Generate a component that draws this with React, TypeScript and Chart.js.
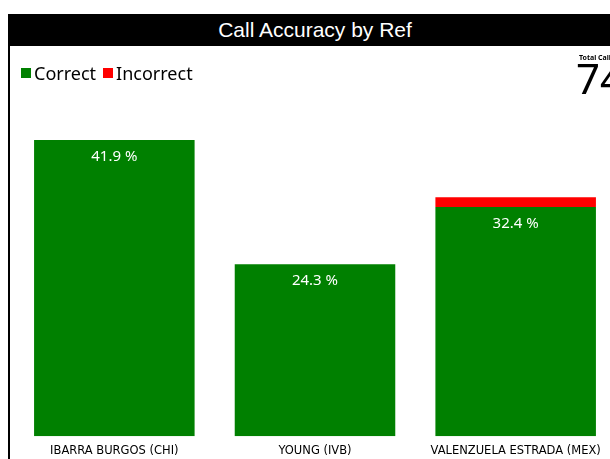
import React, { useEffect, useRef } from "react";
import { Chart, registerables } from "chart.js";

Chart.register(...registerables);

const title = "Call Accuracy by Ref";
const refs = ["IBARRA BURGOS (CHI)", "YOUNG (IVB)", "VALENZUELA ESTRADA (MEX)"];
const correctCalls = [31, 18, 24];
const incorrectCalls = [0, 0, 1];
const seriesNames = ["Correct", "Incorrect"];
const seriesColors = ["#008000", "#ff0000"];
const totalCalls = correctCalls.reduce((a, b) => a + b, 0) + incorrectCalls.reduce((a, b) => a + b, 0);
const yMax = Math.max(...correctCalls.map((c, i) => c + incorrectCalls[i]));

const labelPlugin = {
  id: "pctLabels",
  afterDatasetsDraw(chart: any) {
    const ctx = chart.ctx;
    const meta = chart.getDatasetMeta(0);
    ctx.save();
    ctx.fillStyle = "#ffffff";
    ctx.font = '15px "Noto Sans"';
    ctx.textAlign = "center";
    ctx.textBaseline = "middle";
    meta.data.forEach((bar: any, i: number) => {
      const v = correctCalls[i];
      const pct = ((v / totalCalls) * 100).toFixed(1) + " %";
      ctx.fillText(pct, bar.x, bar.y + 17);
    });
    ctx.restore();
  },
};

export default function App() {
  const canvasRef = useRef<HTMLCanvasElement | null>(null);

  useEffect(() => {
    if (!canvasRef.current) return;
    const chart = new Chart(canvasRef.current, {
      type: "bar",
      data: {
        labels: refs,
        datasets: [
          {
            label: seriesNames[0],
            data: correctCalls,
            backgroundColor: seriesColors[0],
            borderWidth: 0,
            barPercentage: 1,
            categoryPercentage: 0.8,
          },
          {
            label: seriesNames[1],
            data: incorrectCalls,
            backgroundColor: seriesColors[1],
            borderWidth: 0,
            barPercentage: 1,
            categoryPercentage: 0.8,
          },
        ],
      },
      options: {
        responsive: false,
        animation: false,
        devicePixelRatio: 1,
        layout: { padding: { left: 6, right: 6, top: 94, bottom: 0 } },
        plugins: {
          legend: { display: false },
          tooltip: { enabled: false },
          title: { display: false },
        },
        scales: {
          x: {
            stacked: true,
            grid: { display: false, drawTicks: false },
            border: { display: false },
            ticks: {
              color: "#000",
              font: { family: '"DejaVu Sans"', size: 11.5 },
              padding: 8,
              maxRotation: 0,
              autoSkip: false,
            },
          },
          y: {
            stacked: true,
            display: false,
            min: 0,
            max: yMax,
          },
        },
      },
      plugins: [labelPlugin],
    });
    return () => chart.destroy();
  }, []);

  return (
    <div style={{ height: 437 }}>
      <div style={{ position: "fixed", left: 8, top: 14, width: 614, height: 445, background: "#fff", overflow: "hidden" }}>
        <div style={{ position: "absolute", left: 0, top: 0, width: 2, height: 445, background: "#000" }} />
        <canvas
          ref={canvasRef}
          width={614}
          height={420}
          style={{ position: "absolute", left: 0, top: 32, width: 614, height: 420, display: "block" }}
        />
        <div
          style={{
            position: "absolute",
            left: 0,
            top: 0,
            width: 614,
            height: 32,
            background: "#000",
            color: "#fff",
            font: '21px "Liberation Sans", Arial, sans-serif',
            lineHeight: "32px",
            textAlign: "center",
          }}
        >
          {title}
        </div>
        <div
          style={{
            position: "absolute",
            left: 13,
            top: 48,
            height: 22,
            display: "flex",
            alignItems: "center",
            font: '18px "Noto Sans", sans-serif',
            color: "#000",
            whiteSpace: "nowrap",
          }}
        >
          <span style={{ width: 10, height: 10, background: seriesColors[0], marginRight: 3, display: "inline-block" }} />
          <span style={{ marginRight: 7 }}>{seriesNames[0]}</span>
          <span style={{ width: 10, height: 10, background: seriesColors[1], marginRight: 3, display: "inline-block" }} />
          <span>{seriesNames[1]}</span>
        </div>
        <div
          style={{
            position: "absolute",
            left: 571,
            top: 39,
            font: 'bold 7px "Noto Sans", sans-serif',
            color: "#000",
            whiteSpace: "nowrap",
          }}
        >
          Total Calls
        </div>
        <div
          style={{
            position: "absolute",
            left: 568,
            top: 35,
            font: '42px "Noto Sans", sans-serif',
            color: "#000",
            whiteSpace: "nowrap",
          }}
        >
          {totalCalls}
        </div>
      </div>
    </div>
  );
}
